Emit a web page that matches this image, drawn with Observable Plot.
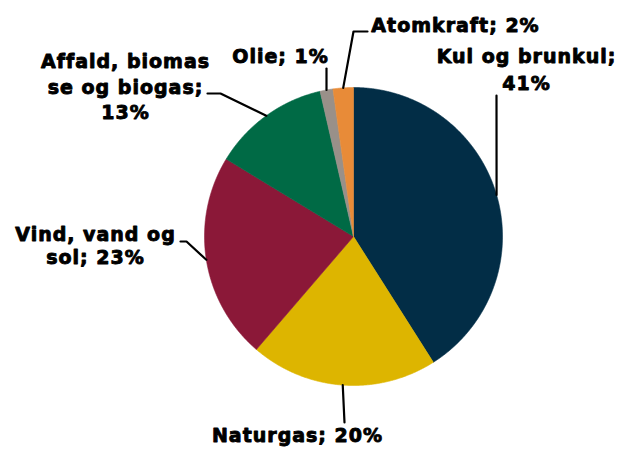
<!DOCTYPE html>
<html><head><meta charset="utf-8">
<script src="https://cdn.jsdelivr.net/npm/d3@7"></script>
<script src="https://cdn.jsdelivr.net/npm/@observablehq/plot@0.6"></script>
<style>
body{margin:0;background:#fff;}
#chart svg{display:block;}
#chart text{font-family:"DejaVu Sans",Verdana,sans-serif;font-weight:bold;letter-spacing:1px;}
</style></head><body><div id="chart"></div>
<script>
// ---- data ----
const categories = ["Kul og brunkul","Naturgas","Vind, vand og sol","Affald, biomasse og biogas","Olie","Atomkraft"];
const shares = [41.0, 20.3, 22.4, 12.7, 1.4, 2.2];
const labelTexts = ["Kul og brunkul;\n41%","Naturgas; 20%","Vind, vand og\nsol; 23%","Affald, biomas\nse og biogas;\n13%","Olie; 1%","Atomkraft; 2%"];
const colors = ["#022d46","#ddb500","#8b1838","#006a45","#999089","#e88b38"];

// ---- layout ----
const W = 622, H = 450, cx = 353, cy = 236, R = 149;
const labelPos = [[526,49,27],[297,428,0],[95,227,23],[125,54,25.5],[280,49,0],[455,18,0]];
const leaderElbows = [[[496,95]],[[344,422]],[[180,241],[186,241]],[[207,93],[220,93]],[[326,68]],[[367,31],[353,31]]];

const arcs = d3.pie().sort(null).value(d => d)(shares);
const pt = (a, r) => [cx + r * Math.sin(a), cy - r * Math.cos(a)];

const wedgePts = [];
arcs.forEach((a, i) => {
  const cat = categories[i];
  wedgePts.push({x: cx, y: cy, cat});
  const n = Math.max(2, Math.ceil((a.endAngle - a.startAngle) / 0.005));
  for (let k = 0; k <= n; k++) {
    const ang = a.startAngle + (a.endAngle - a.startAngle) * k / n;
    const [x, y] = pt(ang, R);
    wedgePts.push({x, y, cat});
  }
  wedgePts.push({x: cx, y: cy, cat});
});

const leaderPts = [];
arcs.forEach((a, i) => {
  leaderElbows[i].forEach(([x, y]) => leaderPts.push({x, y, k: i}));
  const [x, y] = pt((a.startAngle + a.endAngle) / 2, R);
  leaderPts.push({x, y, k: i});
});

const textLines = [];
labelTexts.forEach((t, i) => {
  t.split("\n").forEach((line, j) => {
    textLines.push({x: labelPos[i][0], y: labelPos[i][1] + j * labelPos[i][2], text: line});
  });
});

const chart = Plot.plot({
  width: W, height: H,
  margin: 0,
  x: {type: "linear", domain: [0, W], range: [0, W], axis: null},
  y: {type: "linear", domain: [0, H], range: [0, H], axis: null},
  color: {domain: categories, range: colors},
  marks: [
    Plot.line(wedgePts, {x: "x", y: "y", z: "cat", fill: "cat", stroke: "cat", strokeWidth: 0.6, curve: "linear"}),
    Plot.line(leaderPts, {x: "x", y: "y", z: "k", stroke: "black", strokeWidth: 2.2}),
    Plot.text(textLines, {x: "x", y: "y", text: "text", textAnchor: "middle", lineAnchor: "top", fontSize: 19, fontWeight: "bold", fill: "black", stroke: "black", strokeWidth: 0.9})
  ]
});
document.getElementById("chart").appendChild(chart);
</script>
</body></html>
